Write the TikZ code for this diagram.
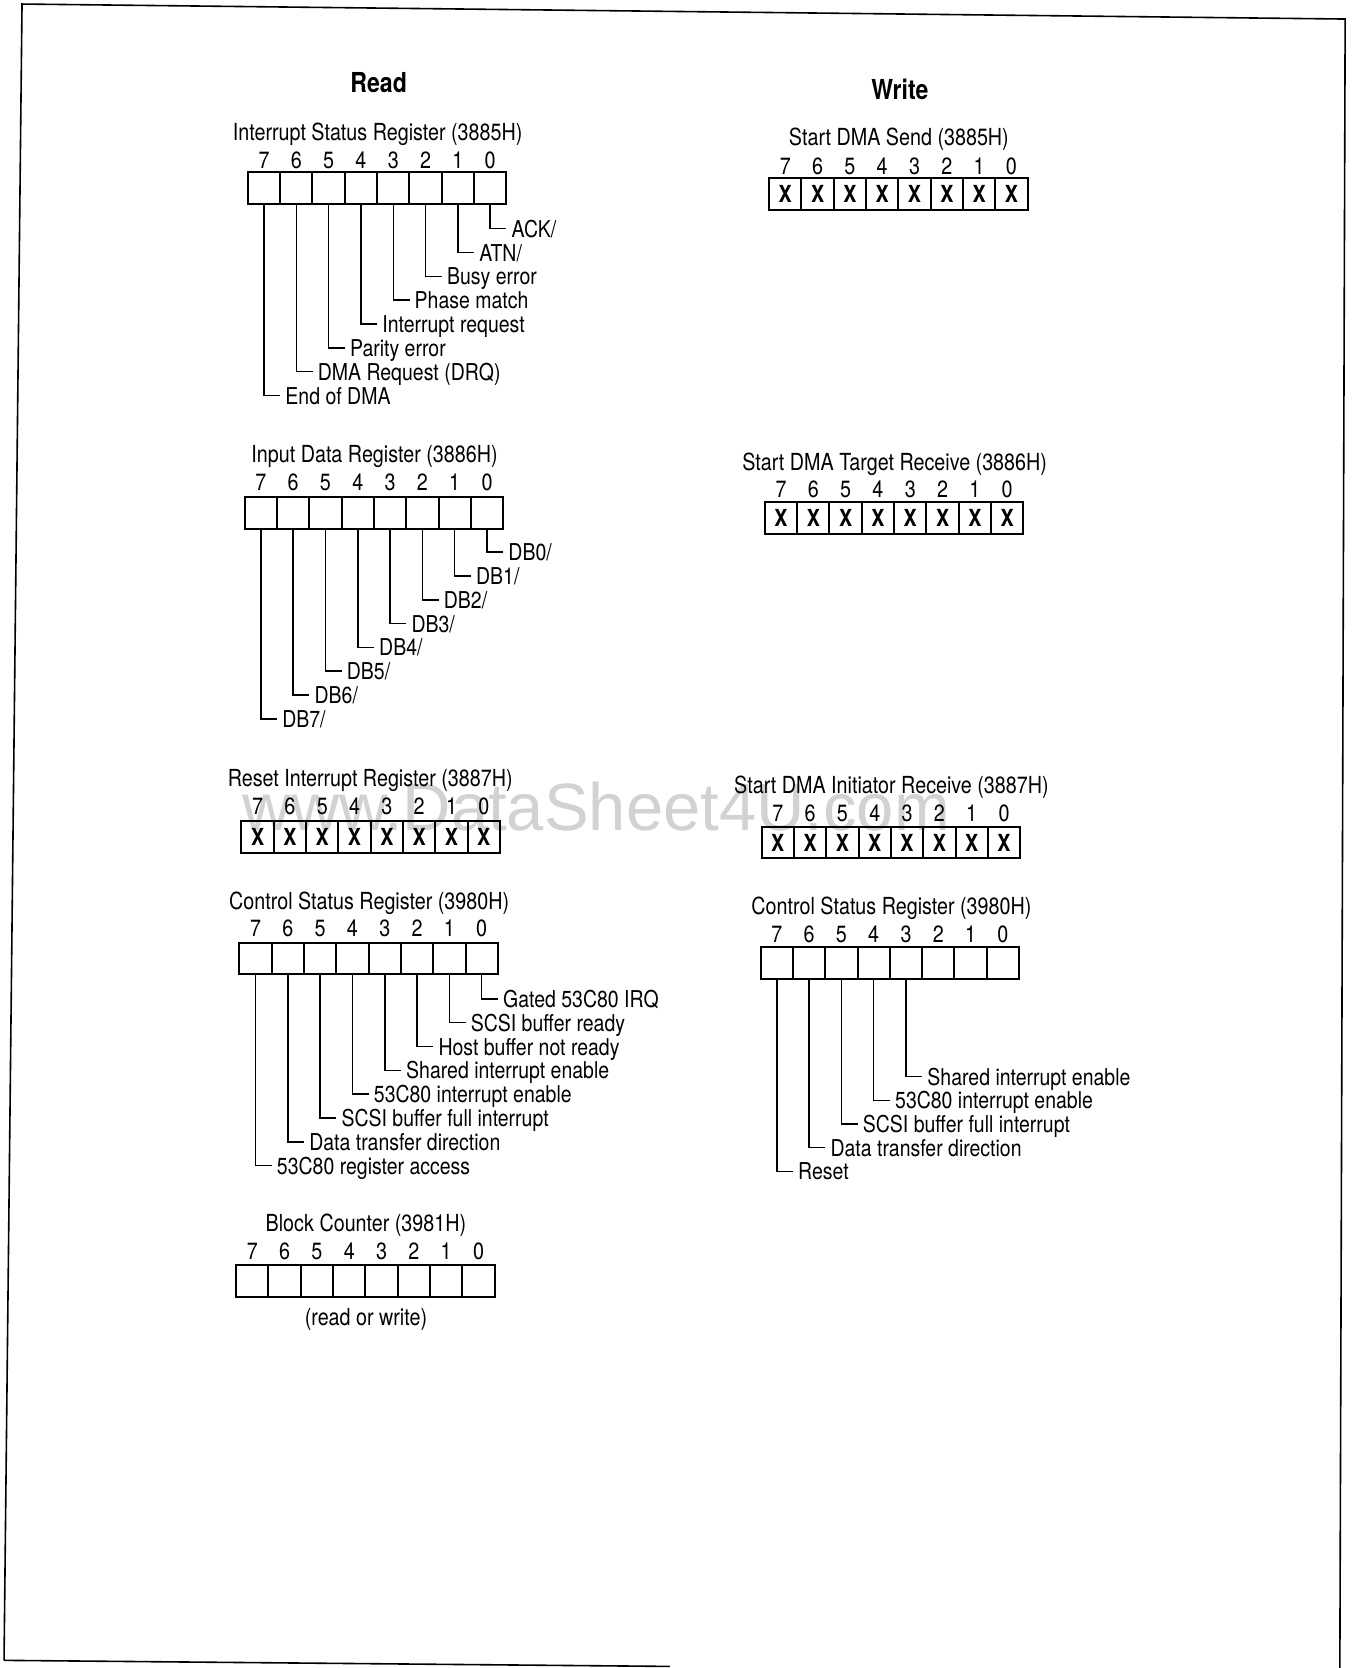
\documentclass[tikz,border=0pt]{standalone}
\usepackage{fontspec}
\setmainfont{TeX Gyre Heros}[FakeStretch=0.84]
\newfontfamily\wmfont{Liberation Sans}
\def\cw{30.375}
\def\ch{30}
\newcommand{\regbox}[5]{%
  \foreach \b in {0,...,7}{%
    \node[cell] (#1-\b) at ({#2+\cw*(7-\b)+\cw/2},{#3+\ch/2}) {#5};
    \node[bitnum] (#1-n\b) at ({#2+\cw*(7-\b)+\cw/2},#4) {\b};
  }%
}
\newcommand{\lab}[5]{%
  \node[lbl] (#1-l#2) at ({#3+\cw*(7-#2)+\cw/2+20},#4) {#5};
  \draw[leader] (#1-#2.south) |- (#1-l#2.west);
}
\begin{document}
\begin{tikzpicture}[x=1.0642pt,y=-1.0642pt,
  txt/.style={inner sep=0pt, font=\fontsize{23.5}{26}\selectfont, text height=17pt, text depth=0pt},
  lbl/.style={txt, anchor=west, font=\fontsize{23.2}{26}\selectfont},
  ttl/.style={txt, anchor=center},
  bitnum/.style={txt, anchor=center},
  head/.style={inner sep=0pt, font=\bfseries\fontsize{27.5}{30}\selectfont, text height=20pt, text depth=0pt},
  cell/.style={draw, line width=2pt, minimum width=32.33pt, minimum height=31.9pt, inner sep=0pt, outer sep=0pt, font=\bfseries\fontsize{23.5}{26}\selectfont},
  leader/.style={line width=1.5pt, shorten >=5pt},
  frame/.style={line width=1.6pt}]
\fill[white] (0,0) rectangle (1278,1568);
\useasboundingbox (0,0) rectangle (1278,1568);
% frame
\draw[frame] (3.8,1560.8) -- (20.7,3.8) -- (1264.5,17.9) -- (1259.5,1572);
\draw[frame] (3.8,1560.8) -- (629.6,1566.5);
% watermark
\node[anchor=base west, inner sep=0pt, text=gray!35, font=\wmfont\fontsize{67}{70}\selectfont] (wm) at (228,781) {www.DataSheet4U.com};

% headings
\node[head] (rd) at (356,78) {Read};
\node[head] (wr) at (846,84) {Write};

% ---------- Interrupt Status Register
\node[ttl] (isr-t) at (355,124) {Interrupt Status Register (3885H)};
\regbox{isr}{233}{162}{150}{}
\lab{isr}{0}{233}{215}{ACK/}
\lab{isr}{1}{233}{237.4}{ATN/}
\lab{isr}{2}{233}{259.8}{Busy error}
\lab{isr}{3}{233}{282.2}{Phase match}
\lab{isr}{4}{233}{304.6}{Interrupt request}
\lab{isr}{5}{233}{327}{Parity error}
\lab{isr}{6}{233}{349.4}{DMA Request (DRQ)}
\lab{isr}{7}{233}{371.8}{End of DMA}

% ---------- Input Data Register
\node[ttl] (idr-t) at (352,427) {Input Data Register (3886H)};
\regbox{idr}{230}{467}{453}{}
\lab{idr}{0}{230}{519}{DB0/}
\lab{idr}{1}{230}{541.4}{DB1/}
\lab{idr}{2}{230}{563.8}{DB2/}
\lab{idr}{3}{230}{586.2}{DB3/}
\lab{idr}{4}{230}{608.6}{DB4/}
\lab{idr}{5}{230}{631}{DB5/}
\lab{idr}{6}{230}{653.4}{DB6/}
\lab{idr}{7}{230}{675.8}{DB7/}

% ---------- Reset Interrupt Register
\node[ttl] (rir-t) at (348,731) {Reset Interrupt Register (3887H)};
\regbox{rir}{227}{772}{758}{X}

% ---------- Control Status Register (read)
\node[ttl] (csr-t) at (347,847) {Control Status Register (3980H)};
\regbox{csr}{225}{886}{872}{}
\lab{csr}{0}{225}{939}{Gated 53C80 IRQ}
\lab{csr}{1}{225}{961.4}{SCSI buffer ready}
\lab{csr}{2}{225}{983.8}{Host buffer not ready}
\lab{csr}{3}{225}{1006.2}{Shared interrupt enable}
\lab{csr}{4}{225}{1028.6}{53C80 interrupt enable}
\lab{csr}{5}{225}{1051}{SCSI buffer full interrupt}
\lab{csr}{6}{225}{1073.4}{Data transfer direction}
\lab{csr}{7}{225}{1095.8}{53C80 register access}

% ---------- Block Counter
\node[ttl] (bc-t) at (344,1150) {Block Counter (3981H)};
\regbox{bc}{222}{1189}{1176}{}
\node[ttl] (bc-rw) at (344,1238) {(read or write)};

% ---------- Start DMA Send
\node[ttl] (sds-t) at (845,129) {Start DMA Send (3885H)};
\regbox{sds}{723}{167}{156}{X}

% ---------- Start DMA Target Receive
\node[ttl] (str-t) at (841,434) {Start DMA Target Receive (3886H)};
\regbox{str}{719}{472}{460}{X}

% ---------- Start DMA Initiator Receive
\node[ttl] (sir-t) at (838,738) {Start DMA Initiator Receive (3887H)};
\regbox{sir}{716}{777}{764}{X}

% ---------- Control Status Register (write)
\node[ttl] (csw-t) at (838,852) {Control Status Register (3980H)};
\regbox{csw}{715}{890}{878}{}
\lab{csw}{3}{715}{1012}{Shared interrupt enable}
\lab{csw}{4}{715}{1034.3}{53C80 interrupt enable}
\lab{csw}{5}{715}{1056.6}{SCSI buffer full interrupt}
\lab{csw}{6}{715}{1078.9}{Data transfer direction}
\lab{csw}{7}{715}{1101.2}{Reset}
\end{tikzpicture}
\end{document}
